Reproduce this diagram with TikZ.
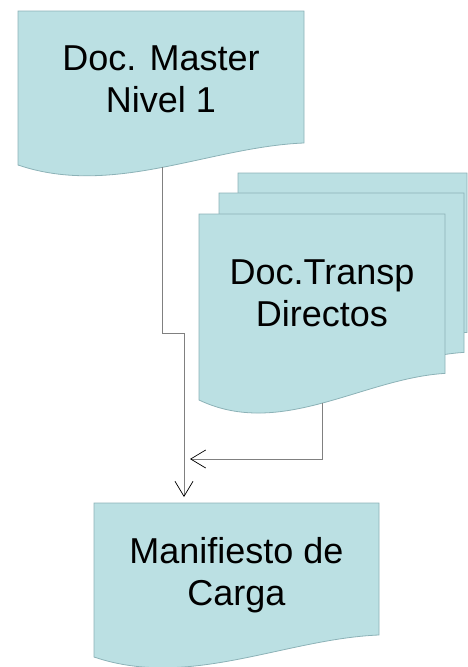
\documentclass[tikz,border=0pt]{standalone}
\usepackage{fontspec}
\setmainfont{Liberation Sans}
\usetikzlibrary{arrows.meta}

\definecolor{sheetfill}{RGB}{187,224,227}
\definecolor{sheetline}{RGB}{140,178,183}
\definecolor{connline}{RGB}{128,128,128}

\tikzset{
  sheet/.style={fill=sheetfill, draw=sheetline, line width=0.8pt},
  doctext/.style={align=center, inner sep=0pt, font={\fontsize{36}{41.5}\selectfont}},
  conn/.style={draw=connline, line width=0.9pt,
    -{Straight Barb[length=15pt,width=18pt,line width=0.7pt,color=black]}}
}

% one document sheet: left, top, width, height (at the left side)
\newcommand{\docsheet}[4]{%
  \path[sheet] (#1,#2) -- ++(#3,0) -- ({#1+#3},{#2+0.857*#4})
    .. controls ({#1+2*#3/3},{#2+#4-0.117*#4}) and ({#1+#3/3},{#2+#4+0.21*#4}) .. (#1,{#2+#4})
    -- cycle;}

\begin{document}
\begin{tikzpicture}[x=1pt, y=-1pt]
  \useasboundingbox (0,0) rectangle (468,667);

  % single documents
  \docsheet{18}{11}{286}{154}
  \docsheet{94}{503}{285}{154}

  % stacked documents, back to front
  \docsheet{238}{173}{229}{186}
  \docsheet{219}{193}{245}{186}
  \docsheet{199}{214}{246}{186}

  % texts
  \node[doctext] (master) at (161,79.5) {Doc. Master\\Nivel 1};
  \node[doctext] (transp) at (322,293.5) {Doc.Transp\\Directos};
  \node[doctext] (manifiesto) at (236.5,575) {Manifiesto de\\Carga};

  % connector ends
  \coordinate (master-out) at (162,167);
  \coordinate (master-bend) at (184,333);
  \coordinate (manifiesto-in) at (184,497);
  \coordinate (transp-out) at (322,403);
  \coordinate (transp-in) at (190,459);

  \draw[conn] (master-out) |- (master-bend) -- (manifiesto-in);
  \draw[conn] (transp-out) |- (transp-in);
\end{tikzpicture}
\end{document}
